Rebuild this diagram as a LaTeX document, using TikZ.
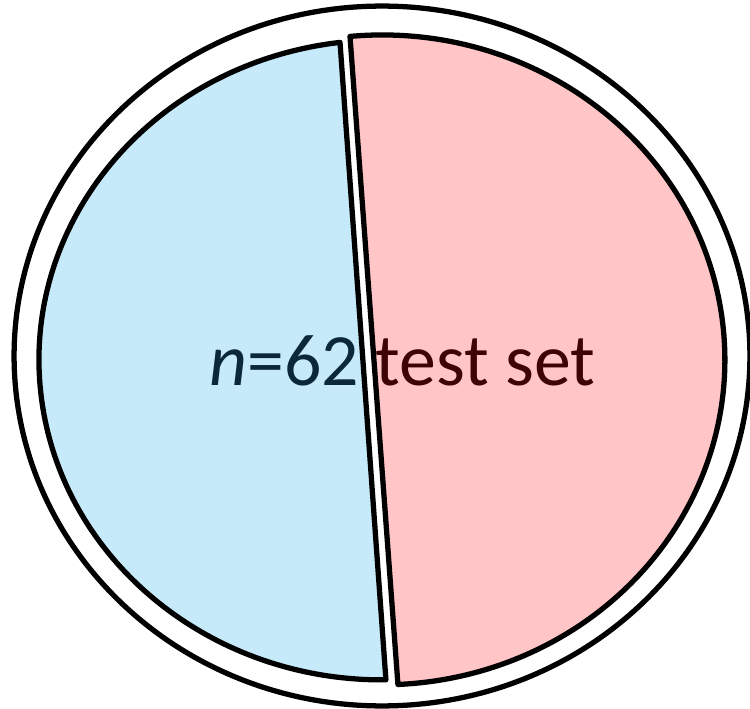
\documentclass[tikz,border=0pt]{standalone}
\usepackage{fontspec}
\setmainfont{Carlito}
\definecolor{setblue}{RGB}{199,234,250}
\definecolor{setpink}{RGB}{255,197,199}
\definecolor{inkblue}{RGB}{10,40,58}
\definecolor{inkred}{RGB}{60,4,4}
\tikzset{
  outline/.style={draw=black, line width=3pt},
  halfpiece/.style={outline, line join=round},
  label/.style={font=\fontsize{42}{50}\selectfont, inner sep=0pt, anchor=base west}
}
\begin{document}
\begin{tikzpicture}[x=0.02cm, y=-0.02cm]
  \useasboundingbox (0,0) rectangle (750,709);
  % outer ring
  \draw[outline] (382,356) ellipse [x radius=7.36cm, y radius=7.0cm];
  % left half of the split ellipse
  \draw[halfpiece, fill=setblue] (340,42.4)
    arc[start angle=97.02, end angle=270.67, x radius=6.86cm, y radius=6.4cm] -- cycle;
  % right half of the split ellipse
  \draw[halfpiece, fill=setpink] (350,36.4)
    arc[start angle=95.35, end angle=-87.33, x radius=6.86cm, y radius=6.5cm] -- cycle;
  % caption across the split
  \node[label] (caption) at (209,385)
    {\textcolor{inkblue}{\textit{n}=62} \textcolor{inkred}{test set}};
\end{tikzpicture}
\end{document}
